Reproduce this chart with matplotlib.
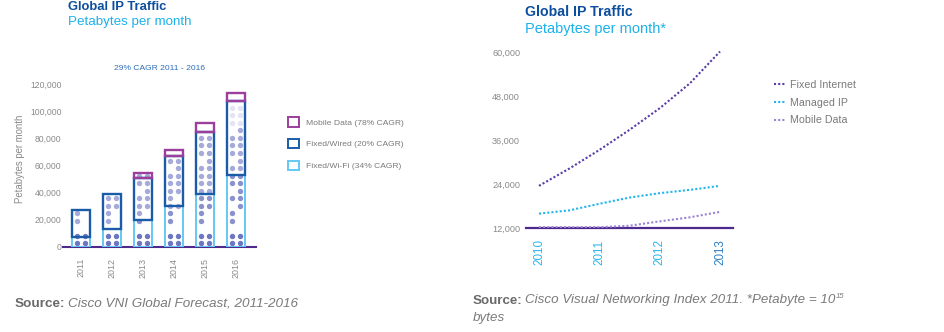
import matplotlib
matplotlib.use("Agg")
import matplotlib.pyplot as plt
from matplotlib.patches import Rectangle
import numpy as np

plt.rcParams['font.family'] = ['Liberation Sans', 'DejaVu Sans']

# ---------------- Left chart data ----------------
years_left = ["2011", "2012", "2013", "2014", "2015", "2016"]
fixed_wifi = [7400, 13400, 19500, 29700, 38800, 52900]
fixed_wired = [19800, 25200, 31500, 36900, 46000, 54200]
mobile_data = [300, 300, 3200, 4900, 6200, 6200]
left_yticks = [0, 20000, 40000, 60000, 80000, 100000, 120000]
left_legend = ["Mobile Data (78% CAGR)", "Fixed/Wired (20% CAGR)", "Fixed/Wi-Fi (34% CAGR)"]
# decorative dot rows per bar (B=both, L=left, R=right, -=none)
dot_masks = ["BB-LL", "BB-LLBB", "BB-LLBBRBB", "BB-LLBLBBBRB",
             "BB-LLBBBBBBRBBB", "BB-LLRBRBBBRBBBRBBB"]

# ---------------- Right chart data ----------------
years_right = [2010, 2010.5, 2011, 2011.5, 2012, 2012.5, 2013]
fixed_internet = [23600, 28300, 33400, 38900, 44800, 51600, 60300]
managed_ip = [16000, 16900, 18700, 20400, 21600, 22500, 23600]
mobile_right = [12300, 12300, 12300, 12700, 13900, 15000, 16500]
right_xticks = [2010, 2011, 2012, 2013]
right_yticks = [12000, 24000, 36000, 48000, 60000]

W, H = 945, 332
fig = plt.figure(figsize=(W / 100, H / 100), dpi=100)

def fx(px):
    return px / W

def fy(py):
    return 1 - py / H

GRAY = "#8a8a8a"
TITLE_BLUE = "#0d4f9e"
SUB_CYAN = "#1cb1ea"
C_WIFI = "#62c9f4"
C_WIRED = "#1b5ca8"
C_MOBILE = "#9c3e9c"
BASE = "#4e2a8e"

# ===== Left axes =====
axL = fig.add_axes([fx(63), fy(246.7), fx(256) - fx(63), fy(70.4) - fy(246.7)])
x = np.arange(len(years_left))
bw = 0.59
wifi = np.array(fixed_wifi)
wired = np.array(fixed_wired)
mob = np.array(mobile_data)

# dots
step = 5550
for i, mask in enumerate(dot_masks):
    for k, ch in enumerate(mask):
        yv = 2500 + step * k
        if k < 2:
            col = "#6d76c0"
        elif yv > 86000:
            col = "#e3e5f3"
        elif yv < wifi[i]:
            col = "#8a91cd"
        else:
            col = "#a5aada"
        xs = []
        if ch in "BL":
            xs.append(x[i] - 0.135)
        if ch in "BR":
            xs.append(x[i] + 0.135)
        if xs:
            axL.scatter(xs, [yv] * len(xs), s=15, color=col, linewidths=0, zorder=2)

axL.bar(x, wifi, width=bw, facecolor="none", edgecolor=C_WIFI, linewidth=1.4, zorder=3)
axL.bar(x, wired, bottom=wifi, width=bw, facecolor="none", edgecolor=C_WIRED, linewidth=1.7, zorder=4)
axL.bar(x[2:], mob[2:], bottom=(wifi + wired)[2:], width=bw, facecolor="none",
        edgecolor=C_MOBILE, linewidth=1.7, zorder=4)

axL.set_xlim(-0.57, 5.64)
axL.set_ylim(0, 130000)
axL.set_yticks(left_yticks)
axL.set_yticklabels([f"{v:,}" for v in left_yticks], fontsize=6.2, color=GRAY)
axL.set_xticks(x)
axL.set_xticklabels(years_left, rotation=90, fontsize=6.4, color=GRAY)
axL.tick_params(axis='both', length=0)
axL.tick_params(axis='x', pad=8)
axL.tick_params(axis='y', pad=1)
for s in ["left", "right", "top"]:
    axL.spines[s].set_visible(False)
axL.spines["bottom"].set_color(BASE)
axL.spines["bottom"].set_linewidth(1.5)
axL.set_ylabel("Petabytes per month", fontsize=6.9, color=GRAY, labelpad=4)

handles = [Rectangle((0, 0), 1, 1, facecolor="white", edgecolor=c, linewidth=1.4)
           for c in (C_MOBILE, C_WIRED, C_WIFI)]
legL = axL.legend(handles, left_legend, loc="upper left", bbox_to_anchor=(fx(288), fy(117)),
                  bbox_transform=fig.transFigure, frameon=False, fontsize=6.1,
                  handlelength=1.35, handleheight=1.35, labelspacing=1.45, handletextpad=0.8,
                  borderpad=0, borderaxespad=0)
for t in legL.get_texts():
    t.set_color("#7a7a7a")

fig.text(fx(160), fy(69), "29% CAGR 2011 - 2016", fontsize=6.1, color="#2f6fb7",
         ha="center", va="center")
fig.text(fx(68), fy(7), "Global IP Traffic", fontsize=9.4, fontweight="bold",
         color=TITLE_BLUE, ha="left", va="center")
fig.text(fx(68), fy(22), "Petabytes per month", fontsize=9.6, color=SUB_CYAN,
         ha="left", va="center")

# ===== Right axes =====
axR = fig.add_axes([fx(525.7), fy(228.3), fx(732.7) - fx(525.7), fy(45.3) - fy(228.3)])
axR.plot(years_right, fixed_internet, color="#5a3aa8", linestyle=(0, (1, 1)), linewidth=1.5,
         label="Fixed Internet", zorder=3)
axR.plot(years_right, managed_ip, color="#1fb6ee", linestyle=(0, (1, 1)), linewidth=1.5,
         label="Managed IP", zorder=3)
axR.plot(years_right, mobile_right, color="#9c84d4", linestyle=(0, (1, 1)), linewidth=1.5,
         label="Mobile Data", zorder=3)
axR.set_xlim(2009.78, 2013.21)
axR.set_ylim(12000, 62000)
axR.set_yticks(right_yticks)
axR.set_yticklabels([f"{v:,}" for v in right_yticks], fontsize=6.6, color=GRAY)
axR.set_xticks(right_xticks)
axR.set_xticklabels([str(v) for v in right_xticks], rotation=90, fontsize=8.4)
for lab, c in zip(axR.get_xticklabels(), ["#29b6f0", "#29b6f0", "#29b6f0", "#2f80c4"]):
    lab.set_color(c)
axR.tick_params(axis='both', length=0)
axR.tick_params(axis='x', pad=8)
axR.tick_params(axis='y', pad=4)
for s in ["left", "right", "top"]:
    axR.spines[s].set_visible(False)
axR.spines["bottom"].set_color(BASE)
axR.spines["bottom"].set_linewidth(1.6)

legR = axR.legend(loc="upper left", bbox_to_anchor=(fx(774), fy(80)),
                  bbox_transform=fig.transFigure, frameon=False, fontsize=7.7,
                  handlelength=1.15, handletextpad=0.3, labelspacing=0.72,
                  borderpad=0, borderaxespad=0)
for t in legR.get_texts():
    t.set_color("#7a7a7a")

fig.text(fx(525), fy(12), "Global IP Traffic", fontsize=10.2, fontweight="bold",
         color=TITLE_BLUE, ha="left", va="center")
fig.text(fx(525), fy(28.5), "Petabytes per month*", fontsize=10.5, color=SUB_CYAN,
         ha="left", va="center")

# ===== Sources =====
fig.canvas.draw()
renderer = fig.canvas.get_renderer()

def source_line(xpx, ypx, rest, size):
    t1 = fig.text(fx(xpx), fy(ypx), "Source:", fontsize=size, fontweight="bold",
                  color="#6a6a6a", ha="left", va="center")
    bb = t1.get_window_extent(renderer)
    t2 = fig.text(bb.x1 / W + 2.5 / W, fy(ypx), rest, fontsize=size, style="italic",
                  color="#7a7a7a", ha="left", va="center")
    return t2

source_line(15, 304, "Cisco VNI Global Forecast, 2011-2016", 9.7)
t2 = source_line(473, 300.5, "Cisco Visual Networking Index 2011. *Petabyte = 10", 9.6)
bb2 = t2.get_window_extent(renderer)
fig.text(bb2.x1 / W + 0.5 / W, fy(296), "15", fontsize=5.6, style="italic",
         color="#7a7a7a", ha="left", va="center")
fig.text(fx(473), fy(317.5), "bytes", fontsize=9.6, style="italic", color="#7a7a7a",
         ha="left", va="center")

fig.savefig("out.png", dpi=100)
